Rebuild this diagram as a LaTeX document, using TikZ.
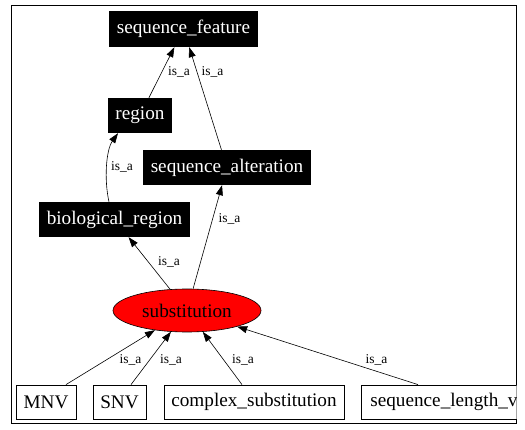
\documentclass[tikz,border=0pt]{standalone}
\usepackage{fontspec}
\setmainfont{Liberation Serif}
\usetikzlibrary{shapes.geometric,arrows.meta}
\begin{document}
\begin{tikzpicture}[x=1pt,y=-1pt,
  blk/.style={rectangle,fill=black,text=white,inner sep=0pt,minimum height=35pt,font=\fontsize{19.2}{22}\selectfont},
  wbox/.style={rectangle,draw=black,line width=0.8pt,fill=white,inner sep=0pt,minimum height=34pt,font=\fontsize{19.2}{22}\selectfont},
  lbl/.style={inner sep=0pt,font=\fontsize{13.5}{15}\selectfont},
  arr/.style={line width=0.6pt,-{Triangle[length=10pt,width=7pt]}}]
\useasboundingbox (0,0) rectangle (525,430);
\draw[line width=1pt] (11,6) rectangle (516,423);
% nodes
\node[blk,minimum width=149pt,minimum height=36pt] (sf) at (183.5,29) {sequence\_feature};
\node[blk,minimum width=64pt] (reg) at (140,115.5) {region};
\node[blk,minimum width=168pt] (sa) at (227,167.5) {sequence\_alteration};
\node[blk,minimum width=151pt] (br) at (114.5,219.5) {biological\_region};
\node[ellipse,draw=black,fill=red,line width=0.6pt,inner sep=0pt,minimum width=148pt,minimum height=43pt,font=\fontsize{19.2}{22}\selectfont] (sub) at (187,310.5) {substitution};
\node[wbox,minimum width=60pt] (mnv) at (46,402) {MNV};
\node[wbox,minimum width=53pt] (snv) at (119.5,402) {SNV};
\node[wbox,minimum width=180pt] (cs) at (254,402) {complex\_substitution};
\begin{scope}
\clip (0,0) rectangle (516.5,430);
\node[wbox,anchor=west,inner xsep=9pt] (slv) at (361,402) {sequence\_length\_variant};
\end{scope}
% edges
\draw[arr] (reg) -- (sf);
\draw[arr] (sa) -- (sf);
\draw[arr] ([xshift=-5.5pt]br.north) .. controls +(-5,-22) and +(-12,17) .. ([xshift=-22pt]reg.south);
\draw[arr] (sub) -- (br);
\draw[arr] (sub) -- (sa);
\draw[arr] ([xshift=20pt]mnv.north) -- (sub);
\draw[arr] ([xshift=11.5pt]snv.north) -- (sub);
\draw[arr] ([xshift=-12pt]cs.north) -- (sub);
\draw[arr] ([xshift=57pt]slv.north west) -- (sub);
% labels
\node[lbl] (l1) at (179,72) {is\_a};
\node[lbl] (l2) at (212.5,72) {is\_a};
\node[lbl] (l3) at (122,167) {is\_a};
\node[lbl] (l4) at (169,262) {is\_a};
\node[lbl] (l5) at (229.5,219) {is\_a};
\node[lbl] (l6) at (130.5,360) {is\_a};
\node[lbl] (l7) at (171,360) {is\_a};
\node[lbl] (l8) at (243,360) {is\_a};
\node[lbl] (l9) at (376.5,360) {is\_a};
\end{tikzpicture}
\end{document}
